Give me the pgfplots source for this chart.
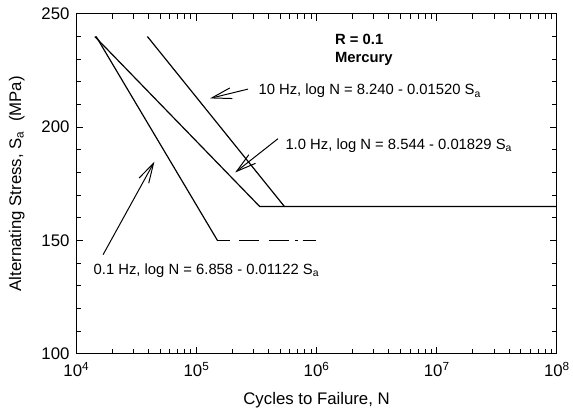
\documentclass[border=0pt]{standalone}
\usepackage{fontspec}
\setmainfont{Liberation Sans}
\usepackage{pgfplots}
\pgfplotsset{compat=1.18}
\usetikzlibrary{arrows.meta}

\begin{document}
\begin{tikzpicture}
\begin{axis}[
  scale only axis, width=485bp, height=343bp,
  xmode=log, xmin=1e4, xmax=1e8, ymin=100, ymax=250,
  xtick={1e4,1e5,1e6,1e7,1e8},
  xticklabels={10\textsuperscript{4},10\textsuperscript{5},10\textsuperscript{6},10\textsuperscript{7},10\textsuperscript{8}},
  minor xtick={2e4,3e4,4e4,5e4,6e4,7e4,8e4,9e4,2e5,3e5,4e5,5e5,6e5,7e5,8e5,9e5,
               2e6,3e6,4e6,5e6,6e6,7e6,8e6,9e6,2e7,3e7,4e7,5e7,6e7,7e7,8e7,9e7},
  ytick={100,150,200,250},
  minor ytick={110,120,130,140,160,170,180,190,210,220,230,240},
  tick align=inside,
  major tick length=7bp, minor tick length=5bp,
  every tick/.append style={black, line width=1bp},
  every axis/.append style={line width=1.2bp},
  tick label style={font=\fontsize{17}{19}\selectfont},
  yticklabel style={/pgf/number format/assume math mode=true, xshift=-3bp},
  xticklabel style={yshift=-5bp},
  xlabel={Cycles to Failure, N},
  ylabel={Alternating Stress, S\textsubscript{a}\ \ (MPa)},
  every axis x label/.style={at={(axis description cs:0.5,-0.137)}, anchor=center,
    font=\fontsize{17}{19}\selectfont},
  every axis y label/.style={at={(axis description cs:-0.124,0.5)}, rotate=90, anchor=center,
    font=\fontsize{17}{19}\selectfont},
]
% 0.1 Hz
\addplot[black, line width=1.2bp] coordinates {(14630,240) (149600,150)};
\addplot[black, line width=1.2bp,
  dash pattern=on 13bp off 9bp on 20bp off 10bp on 20bp off 6bp on 3bp off 5bp on 13bp]
  coordinates {(149600,150) (1e6,150)};
% 1.0 Hz
\addplot[black, line width=1.2bp] coordinates {(14267,240) (335880,165) (1e8,165)};
% 10 Hz
\addplot[black, line width=1.2bp] coordinates {(39080,240) (539500,165)};

% annotations
\draw[-{Straight Barb[length=20bp,width=11bp]}, line width=1bp]
  (axis cs:2.69e5,216.8) -- (axis cs:1.297e5,212.7);
\draw[-{Straight Barb[length=20bp,width=11bp]}, line width=1bp]
  (axis cs:4.77e5,194.9) -- (axis cs:2.10e5,180);
\draw[-{Straight Barb[length=20bp,width=11bp]}, line width=1bp]
  (axis cs:1.67e4,143.7) -- (axis cs:4.47e4,184.8);

\node[anchor=west, font=\fontsize{15}{17}\selectfont, inner sep=0pt]
  at (axis cs:3.25e5,215.9) {10 Hz, log N = 8.240 - 0.01520 S\textsubscript{a}};
\node[anchor=west, font=\fontsize{15}{17}\selectfont, inner sep=0pt]
  at (axis cs:5.45e5,191.8) {1.0 Hz, log N = 8.544 - 0.01829 S\textsubscript{a}};
\node[anchor=west, font=\fontsize{15}{17}\selectfont, inner sep=0pt]
  at (axis cs:1.38e4,136.7) {0.1 Hz, log N = 6.858 - 0.01122 S\textsubscript{a}};
\node[anchor=west, font=\fontsize{15}{17}\selectfont\bfseries, inner sep=0pt]
  at (axis cs:1.41e6,238.6) {R = 0.1};
\node[anchor=west, font=\fontsize{15}{17}\selectfont\bfseries, inner sep=0pt]
  at (axis cs:1.41e6,229.9) {Mercury};
\end{axis}
\path ([xshift=-77bp,yshift=-59bp]current axis.south west) ([xshift=14bp,yshift=14bp]current axis.north east);
\end{tikzpicture}
\end{document}
